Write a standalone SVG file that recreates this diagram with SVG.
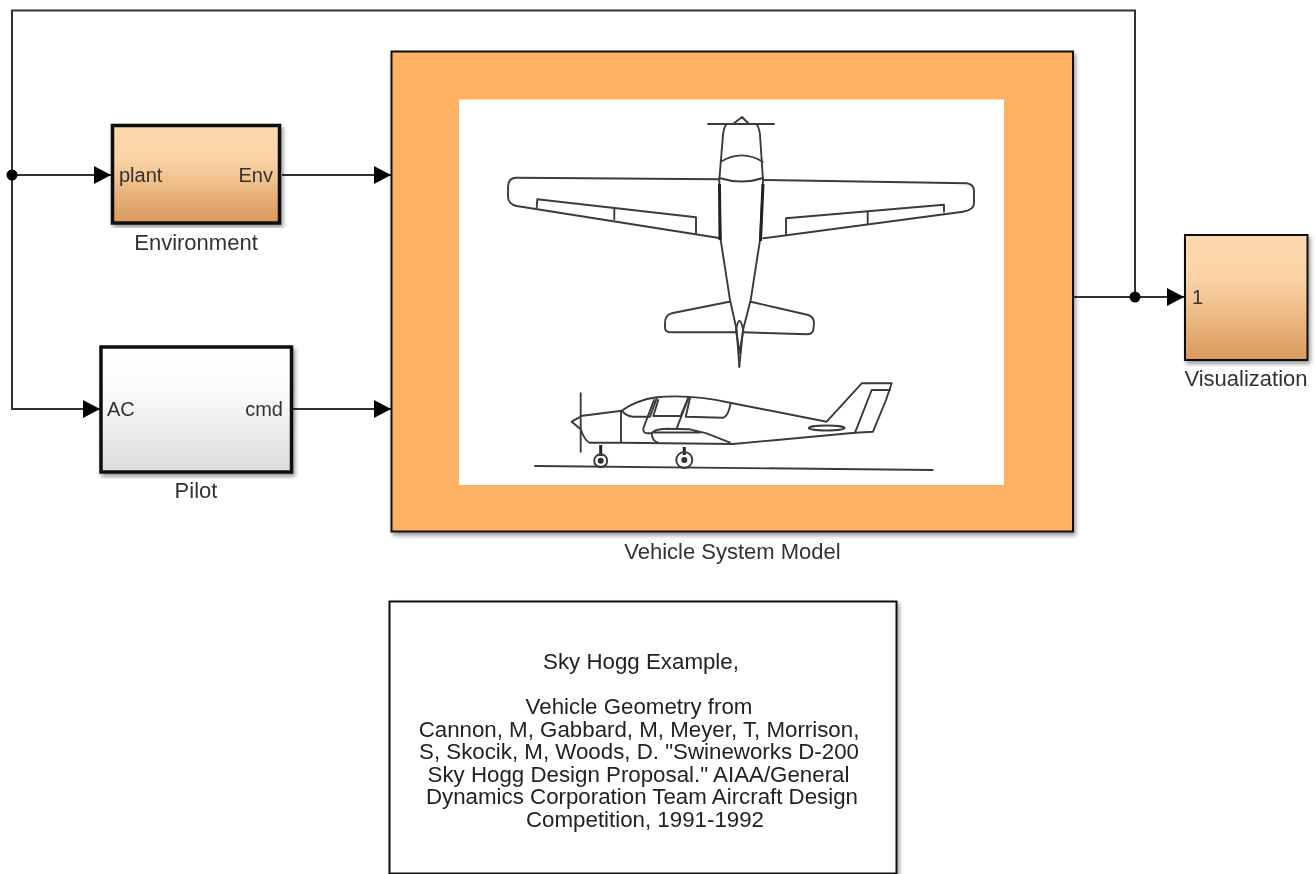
<svg xmlns="http://www.w3.org/2000/svg" width="1316" height="874" viewBox="0 0 1316 874">
<style>
text{font-family:"Liberation Sans",Arial,sans-serif;font-size:22px;fill:#333}
.port{font-size:20px}
.m{text-anchor:middle}
.note{fill:#222;font-size:22.300px}
.c{fill:none;stroke:#333;stroke-width:2}
.ply{fill:none;stroke:#3a3a3a;stroke-width:1.9;stroke-linecap:round;stroke-linejoin:round}
.thick{fill:none;stroke:#222;stroke-width:3}
.blk{stroke:#111}
</style>
<defs>
<linearGradient id="org" x1="0" y1="0" x2="0" y2="1"><stop offset="0" stop-color="#FDD8AE"/><stop offset=".35" stop-color="#FBD3A6"/><stop offset="1" stop-color="#D9995A"/></linearGradient>
<linearGradient id="gry" x1="0" y1="0" x2="0" y2="1"><stop offset="0" stop-color="#fff"/><stop offset=".35" stop-color="#fbfbfb"/><stop offset="1" stop-color="#dcdcdc"/></linearGradient>
<filter id="sh" x="-5%" y="-5%" width="110%" height="110%"><feDropShadow dx="2" dy="3" stdDeviation="2" flood-color="#000" flood-opacity=".4"/></filter>
<filter id="soft" x="-2%" y="-2%" width="104%" height="104%"><feGaussianBlur stdDeviation=".5"/></filter>
<filter id="softer" x="-2%" y="-2%" width="104%" height="104%"><feGaussianBlur stdDeviation=".6"/></filter>
<marker id="arr" markerUnits="userSpaceOnUse" markerWidth="17" markerHeight="18" refX="17" refY="9" orient="auto"><path d="M0 0L17 9L0 18Z" fill="#000"/></marker>
</defs>
<rect width="1316" height="874" fill="#fff"/>
<g filter="url(#soft)">
<g id="connectors">
<path class="c" d="M12 175V10.500H1135V297"/>
<path class="c" d="M12 175H111" marker-end="url(#arr)"/>
<path class="c" d="M12 175V409H100" marker-end="url(#arr)"/>
<path class="c" d="M282 175H391" marker-end="url(#arr)"/>
<path class="c" d="M293 409H391" marker-end="url(#arr)"/>
<path class="c" d="M1074 297H1184" marker-end="url(#arr)"/>
<circle cx="12" cy="175" r="5.500" fill="#000"/>
<circle cx="1135" cy="297" r="5.500" fill="#000"/>
</g>
<g id="environment">
<rect class="blk" x="112.500" y="125.500" width="167" height="97.500" fill="url(#org)" stroke-width="3.500" filter="url(#sh)"/>
<text class="port" x="119" y="182">plant</text>
<text class="port" x="273" y="182" text-anchor="end">Env</text>
<text class="m" x="196" y="250">Environment</text>
</g>
<g id="pilot">
<rect class="blk" x="101" y="347" width="190.500" height="125" fill="url(#gry)" stroke-width="3.500" filter="url(#sh)"/>
<text class="port" x="107" y="416">AC</text>
<text class="port" x="283" y="416" text-anchor="end">cmd</text>
<text class="m" x="196" y="498">Pilot</text>
</g>
<g id="visualization">
<rect class="blk" x="1185" y="235" width="122.500" height="125" fill="url(#org)" stroke-width="2" filter="url(#sh)"/>
<text class="port" x="1192" y="304">1</text>
<text class="m" x="1246" y="386">Visualization</text>
</g>
<g id="vehicle">
<rect class="blk" x="391.500" y="51.500" width="681.500" height="480" fill="#FFB163" stroke-width="2" filter="url(#sh)"/>
<rect x="459" y="99.500" width="545" height="385.500" fill="#fff"/>
<text class="m" x="732.500" y="559">Vehicle System Model</text>
<g id="plane-top" filter="url(#softer)">
<path class="ply" d="M708 124H774M733 124L742 117L749 124"/>
<path class="ply" d="M727 124Q724 126 723 135L719.300 180L720.700 240L730 300L736.700 330L739.300 366.700"/>
<path class="ply" d="M756 124Q759 126 760 135L763 180L760 240L750.700 300L743 330L739.300 366.700"/>
<path class="ply" d="M720.700 161.700Q742 149 762.700 161.700M719.300 178Q742 185 763 178"/>
<path class="ply" d="M719 179.300L516.700 177.700Q508 177.700 508 186.700V196.700Q508 204 516.700 206L720.700 238.300"/>
<path class="ply" d="M536.700 207.300L537.300 199.300L696 217.300V233.300M614.300 208.300V219.300"/>
<path class="ply" d="M763.300 180L966.700 183.300Q974 184 974 191.700V203.300Q974 210 963 211.700L763.300 238.300"/>
<path class="ply" d="M786 234V218.300L944 204.700V211.700M867.700 211.700V223.300"/>
<path class="thick" d="M719.500 184L720 240M763 184L760.500 241"/>
<path class="ply" d="M729.300 301.700L671.700 313.300Q665 315 665 323V328Q665 332.300 671.700 332.300H736.700"/>
<path class="ply" d="M750.700 301.700L808.300 315Q814 317 814 323L813.300 330Q812.500 334.300 806.700 334.300L743.300 332.300"/>
<path class="ply" d="M736 330Q739.300 312 743.300 330L739.500 353L736 330"/>
</g>
<g id="plane-side" filter="url(#softer)">
<path class="ply" d="M535 466L932.700 470"/>
<path class="ply" d="M580.700 393.300V451.700M580.700 416.700L571.700 421.700L580.700 429.300"/>
<path class="ply" d="M580.700 416L621.700 410.700Q636.700 400 656.700 397.300Q690 394 730 402.700L826.700 421.700L861.700 383.300H891.700L886 400L873 431.700L855 432.700L733 444L621.700 442.700H590Q585 441.700 580.700 429.300"/>
<path class="ply" d="M855 432.700L871.700 390H890M621 411.700V441.700"/>
<path class="ply" d="M621.700 410.700Q626.700 416.700 633.300 416.700H650L656.700 398.300"/>
<path class="ply" d="M658.300 400L653.300 416H680.700L688.300 397.300M688.300 398.300L676.700 428.300"/>
<path class="ply" d="M690 398.300L685.700 416.700L723.300 417.700Q728 416.700 730.700 403.300"/>
<path class="ply" d="M654 400L643.300 428.300Q642.700 433.300 648.300 433.300H652"/>
<path class="ply" d="M651.700 433.300Q653.300 429.300 666.700 428.700L690 429.300Q700 431.700 706.700 433.300L730 442.700M651.700 433.300Q652 441 658 442.700M654 432.500H700"/>
<ellipse class="ply" cx="826.700" cy="428" rx="18" ry="2.500"/>
<path class="thick" d="M600.700 445V456M684.300 447V455"/>
<circle class="ply" cx="600.700" cy="460.700" r="6.500"/><circle cx="600.700" cy="460.700" r="3" fill="#333"/>
<circle class="ply" cx="684.300" cy="460" r="8"/><circle cx="684.300" cy="460" r="3" fill="#333"/>
</g>
</g>
<g id="note">
<rect class="blk" x="389.500" y="601.500" width="507" height="272" fill="#fff" stroke-width="2" filter="url(#sh)"/>
<text class="m note" x="641" y="669">Sky Hogg Example,</text>
<text class="m note" x="639" y="714">Vehicle Geometry from</text>
<text class="m note" x="639" y="737">Cannon, M, Gabbard, M, Meyer, T, Morrison,</text>
<text class="m note" x="639" y="759">S, Skocik, M, Woods, D. "Swineworks D-200</text>
<text class="m note" x="638.500" y="782">Sky Hogg Design Proposal." AIAA/General</text>
<text class="m note" x="642" y="804">Dynamics Corporation Team Aircraft Design</text>
<text class="m note" x="645" y="827">Competition, 1991-1992</text>
</g>
</g>
</svg>
